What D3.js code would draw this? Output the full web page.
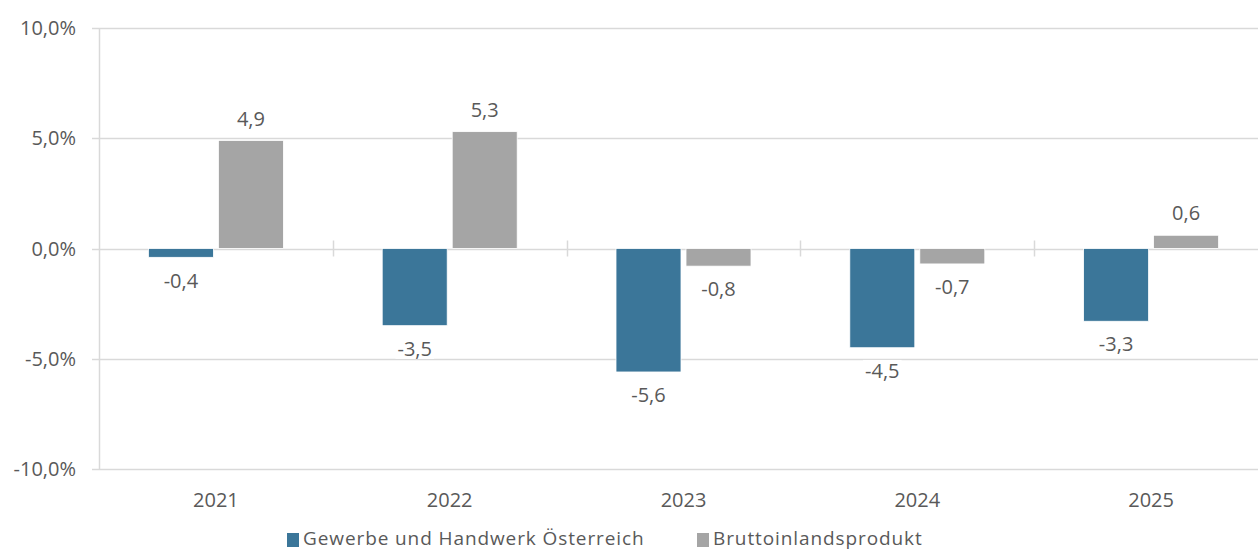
<!DOCTYPE html>
<html>
<head>
<meta charset="utf-8">
<script src="https://cdn.jsdelivr.net/npm/d3@7"></script>
<style>
  html, body { margin: 0; padding: 0; background: #fff; }
  svg { display: block; font-family: "Open Sans", "Liberation Sans", sans-serif; }
</style>
</head>
<body>
<svg id="chart" width="1258" height="551"></svg>
<script>
// ── data ──────────────────────────────────────
const years = ["2021", "2022", "2023", "2024", "2025"];
const gewerbe = [-0.4, -3.5, -5.6, -4.5, -3.3];
const bip = [4.9, 5.3, -0.8, -0.7, 0.6];
const yTicks = [-10, -5, 0, 5, 10];
const seriesNames = ["Gewerbe und Handwerk Österreich", "Bruttoinlandsprodukt"];
const seriesColors = ["#3b7699", "#a5a5a5"];

const W = 1258, H = 551;
const svg = d3.select("#chart");
const fmt = (v) => v.toFixed(1).replace(".", ",");
const textCol = "#595959";

const x = d3.scaleBand().domain(years).range([99, 1268]);
const y = d3.scaleLinear().domain([-10, 10]).range([469, 28]);
const barW = 65, gap = 5;

// gridlines
svg.append("g")
  .selectAll("line")
  .data(yTicks)
  .join("line")
  .attr("x1", 92).attr("x2", W)
  .attr("y1", (d) => Math.round(y(d)) + 0.5).attr("y2", (d) => Math.round(y(d)) + 0.5)
  .attr("stroke", "#d9d9d9").attr("stroke-width", 1.5);

// y axis line
svg.append("line")
  .attr("x1", 99.5).attr("x2", 99.5)
  .attr("y1", y(10)).attr("y2", y(-10))
  .attr("stroke", "#d9d9d9").attr("stroke-width", 1.5);

// y tick labels
svg.append("g")
  .selectAll("text")
  .data(yTicks)
  .join("text")
  .attr("x", 76).attr("y", (d) => y(d))
  .attr("dy", "0.36em")
  .attr("text-anchor", "end")
  .attr("fill", textCol)
  .attr("font-size", 20)
  .text((d) => fmt(d) + "%");

// category separators on the zero line
svg.append("g")
  .selectAll("line")
  .data(years.slice(1))
  .join("line")
  .attr("x1", (d) => Math.round(x(d)) + 0.5).attr("x2", (d) => Math.round(x(d)) + 0.5)
  .attr("y1", y(0) - 8).attr("y2", y(0) + 8)
  .attr("stroke", "#d9d9d9").attr("stroke-width", 1.5);

const series = [gewerbe, bip];
const offsets = [-(barW + gap / 2), gap / 2];

series.forEach((vals, si) => {
  svg.append("g")
    .selectAll("rect")
    .data(vals)
    .join("rect")
    .attr("x", (d, i) => x(years[i]) + x.bandwidth() / 2 + offsets[si])
    .attr("y", (d) => y(Math.max(0, d)))
    .attr("width", barW)
    .attr("height", (d) => Math.abs(y(d) - y(0)))
    .attr("fill", seriesColors[si])
    .attr("stroke", "#fff").attr("stroke-width", 0.8);

  // value labels with white background
  const lg = svg.append("g");
  vals.forEach((d, i) => {
    const cx = x(years[i]) + x.bandwidth() / 2 + offsets[si] + barW / 2;
    const cy = d >= 0 ? y(d) - 22 : y(d) + 23;
    const t = lg.append("text")
      .attr("x", cx).attr("y", cy)
      .attr("dy", "0.36em")
      .attr("text-anchor", "middle")
      .attr("fill", textCol)
      .attr("font-size", 20)
      .text(fmt(d));
    const bb = t.node().getBBox();
    lg.insert("rect", "text")
      .attr("x", bb.x - 2).attr("y", bb.y + 3)
      .attr("width", bb.width + 4).attr("height", bb.height - 6)
      .attr("fill", "#fff");
  });
});

// x labels
svg.append("g")
  .selectAll("text")
  .data(years)
  .join("text")
  .attr("x", (d) => x(d) + x.bandwidth() / 2)
  .attr("y", 500)
  .attr("dy", "0.36em")
  .attr("text-anchor", "middle")
  .attr("fill", textCol)
  .attr("font-size", 20)
  .text((d) => d);

// legend
const legendX = [287, 697];
const leg = svg.append("g");
seriesNames.forEach((name, i) => {
  leg.append("rect")
    .attr("x", legendX[i]).attr("y", 533)
    .attr("width", 12).attr("height", 14)
    .attr("fill", seriesColors[i]);
  leg.append("text")
    .attr("x", legendX[i] + 16).attr("y", 539)
    .attr("dy", "0.34em")
    .attr("fill", textCol)
    .attr("font-size", 19)
    .attr("letter-spacing", 0.9)
    .text(name);
});
</script>
</body>
</html>
